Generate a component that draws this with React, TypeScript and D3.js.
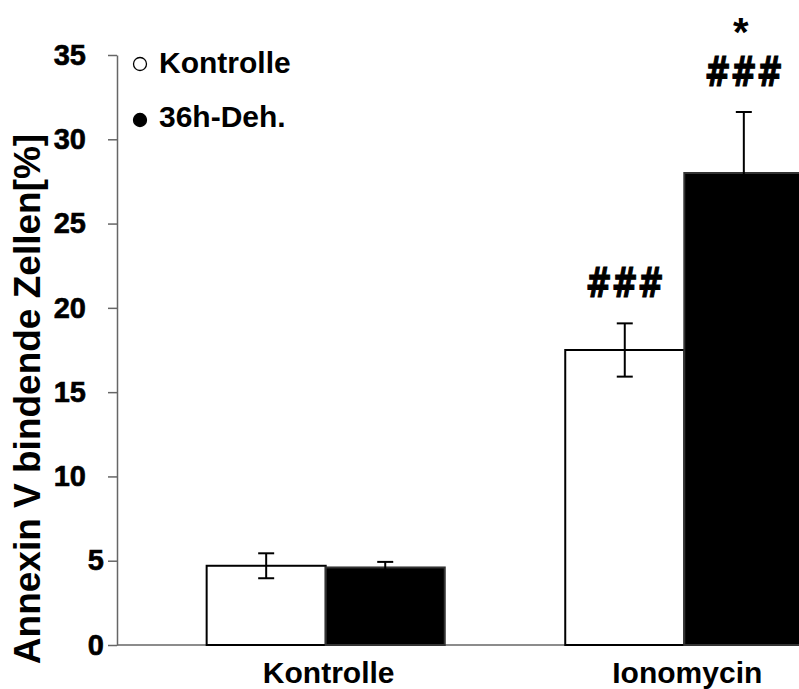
import React, { useEffect, useRef } from 'react';
import * as d3 from 'd3';

const groups = ['Kontrolle', 'Ionomycin'];
const seriesNames = ['Kontrolle', '36h-Deh.'];
const kontrolleMeans = [4.7, 17.5];
const kontrolleErr = [0.74, 1.58];
const dehMeans = [4.6, 28.0];
const dehErr = [0.33, 3.62];
const kontrolleMarks = [[], ['###']];
const dehMarks = [[], ['###', '*']];
const yTicks = [0, 5, 10, 15, 20, 25, 30, 35];

const App = () => {
  const svgRef = useRef(null);
  const width = 799;
  const height = 689;
  const font = '"Liberation Sans", Arial, Helvetica, sans-serif';

  useEffect(() => {
    const svg = d3.select(svgRef.current);
    svg.selectAll('*').remove();

    const y = d3.scaleLinear().domain([0, 35]).range([645, 55]);
    const x0 = d3
      .scaleBand()
      .domain(groups)
      .range([117, 893])
      .paddingInner(0.336)
      .paddingOuter(0.25);
    const x1 = d3.scaleBand().domain(seriesNames).range([0, x0.bandwidth()]);

    const rows = groups.flatMap((g, i) => [
      { group: g, series: seriesNames[0], mean: kontrolleMeans[i], err: kontrolleErr[i], marks: kontrolleMarks[i], fill: '#fff' },
      { group: g, series: seriesNames[1], mean: dehMeans[i], err: dehErr[i], marks: dehMarks[i], fill: '#000' },
    ]);

    // x baseline
    svg.append('line')
      .attr('x1', 117)
      .attr('x2', width)
      .attr('y1', y(0))
      .attr('y2', y(0))
      .attr('stroke', '#666')
      .attr('stroke-width', 1.5);

    // y axis
    const yAxis = svg.append('g')
      .attr('transform', 'translate(117,0)')
      .call(d3.axisLeft(y).tickValues(yTicks).tickSize(9).tickSizeOuter(0));
    yAxis.select('.domain').attr('stroke', '#666').attr('stroke-width', 1.5);
    yAxis.selectAll('.tick line').attr('stroke', '#666').attr('stroke-width', 1.5);
    yAxis.selectAll('.tick text')
      .attr('x', (d) => (d >= 10 ? -31 : -13))
      .attr('fill', '#000')
      .attr('stroke', '#000')
      .attr('stroke-width', 0.6)
      .style('font-family', font)
      .style('font-weight', 'bold')
      .style('font-size', '29px');

    const bx = (d) => x0(d.group) + x1(d.series);

    svg.selectAll('rect.bar')
      .data(rows)
      .enter()
      .append('rect')
      .attr('class', 'bar')
      .attr('x', bx)
      .attr('y', (d) => y(d.mean))
      .attr('width', x1.bandwidth())
      .attr('height', (d) => y(0) - y(d.mean))
      .attr('fill', (d) => d.fill)
      .attr('stroke', (d) => (d.fill === '#000' ? '#333' : '#000'))
      .attr('stroke-width', 2);

    // error bars
    const eb = svg.selectAll('g.err').data(rows).enter().append('g').attr('class', 'err');
    const cx = (d) => bx(d) + x1.bandwidth() / 2;
    eb.append('line')
      .attr('x1', cx).attr('x2', cx)
      .attr('y1', (d) => y(d.mean - d.err))
      .attr('y2', (d) => y(d.mean + d.err))
      .attr('stroke', '#000').attr('stroke-width', 2);
    [1, -1].forEach((s) => {
      eb.append('line')
        .attr('x1', (d) => cx(d) - 8).attr('x2', (d) => cx(d) + 8)
        .attr('y1', (d) => y(d.mean + s * d.err))
        .attr('y2', (d) => y(d.mean + s * d.err))
        .attr('stroke', '#000').attr('stroke-width', 2);
    });

    // significance marks, stacked upward above the error bar
    rows.filter((d) => d.marks.length).forEach((d) => {
      const base = y(d.mean + d.err) - 26;
      d.marks.forEach((m, k) => {
        const isStar = m === '*';
        const t = svg.append('text')
          .attr('text-anchor', 'middle')
          .attr('stroke', '#000')
          .attr('stroke-width', isStar ? 0 : 1.2)
          .style('font-weight', 'bold')
          .style('font-family', isStar ? font : '"DejaVu Sans", sans-serif')
          .style('font-size', isStar ? '40px' : '41px')
          .text(m);
        const w = t.node().getComputedTextLength();
        const sx = isStar ? 1 : 78 / w;
        t.attr('transform', `translate(${cx(d) + (isStar ? -3 : 0)},${base - k * 40}) scale(${sx},1)`);
      });
    });

    // x labels
    svg.selectAll('text.xlab')
      .data(groups)
      .enter()
      .append('text')
      .attr('class', 'xlab')
      .attr('x', (g) => x0(g) + x0.bandwidth() / 2 + 3)
      .attr('y', 683)
      .attr('text-anchor', 'middle')
      .style('font-family', font)
      .style('font-weight', 'bold')
      .style('font-size', '30px')
      .text((g) => g);

    // y title
    svg.append('text')
      .attr('transform', 'translate(40,399) rotate(-90)')
      .attr('text-anchor', 'middle')
      .style('font-family', font)
      .style('font-weight', 'bold')
      .style('font-size', '37px')
      .text('Annexin V bindende Zellen[%]');

    // legend
    const legend = svg.append('g');
    seriesNames.forEach((s, i) => {
      legend.append('circle')
        .attr('cx', 140)
        .attr('cy', 64 + i * 56)
        .attr('r', 6.5)
        .attr('fill', i === 0 ? '#fff' : '#000')
        .attr('stroke', '#000')
        .attr('stroke-width', 1.3);
      legend.append('text')
        .attr('x', 159)
        .attr('y', 73 + i * 54)
        .style('font-family', font)
        .style('font-weight', 'bold')
        .style('font-size', '30px')
        .text(s);
    });
  }, []);

  return (
    <svg
      ref={svgRef}
      width={width}
      height={height}
      style={{ position: 'absolute', left: 0, top: 0, background: '#fff' }}
    ></svg>
  );
};

export default App;
